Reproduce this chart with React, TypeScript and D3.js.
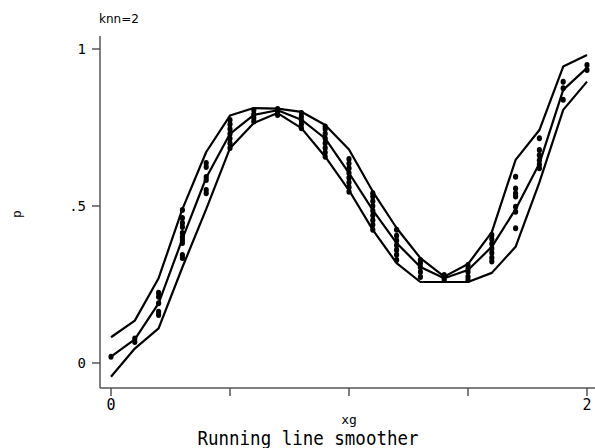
import React from "react";
import * as d3 from "d3";

const xg = [0, 0.1, 0.2, 0.3, 0.4, 0.5, 0.6, 0.7, 0.8, 0.9, 1.0, 1.1, 1.2, 1.3, 1.4, 1.5, 1.6, 1.7, 1.8, 1.9, 2.0];
const smoothMid = [0.02, 0.075, 0.19, 0.395, 0.59, 0.73, 0.79, 0.805, 0.775, 0.715, 0.605, 0.487, 0.382, 0.306, 0.27, 0.296, 0.37, 0.49, 0.635, 0.87, 0.94];
const smoothUpper = [0.082, 0.135, 0.27, 0.49, 0.672, 0.788, 0.812, 0.81, 0.8, 0.758, 0.68, 0.546, 0.43, 0.334, 0.275, 0.315, 0.417, 0.647, 0.742, 0.944, 0.981];
const smoothLower = [-0.044, 0.046, 0.11, 0.305, 0.49, 0.684, 0.764, 0.796, 0.748, 0.657, 0.55, 0.424, 0.318, 0.258, 0.258, 0.258, 0.287, 0.37, 0.575, 0.806, 0.896];

const pointsByX: number[][] = [
  [0.02],
  [0.067, 0.078],
  [0.153, 0.163, 0.19, 0.211, 0.224],
  [0.334, 0.344, 0.382, 0.392, 0.401, 0.414, 0.433, 0.446, 0.462, 0.487],
  [0.541, 0.551, 0.583, 0.592, 0.624, 0.637],
  [0.685, 0.7, 0.715, 0.73, 0.745, 0.76, 0.774],
  [0.769, 0.78, 0.792, 0.806],
  [0.79, 0.8, 0.809],
  [0.748, 0.76, 0.772, 0.784, 0.796],
  [0.657, 0.67, 0.685, 0.7, 0.715, 0.73, 0.745, 0.753],
  [0.545, 0.56, 0.575, 0.59, 0.605, 0.62, 0.635, 0.65],
  [0.424, 0.44, 0.455, 0.47, 0.485, 0.5, 0.515, 0.53, 0.541],
  [0.328, 0.345, 0.36, 0.375, 0.39, 0.405, 0.424],
  [0.274, 0.29, 0.305, 0.318, 0.328],
  [0.264, 0.272, 0.28],
  [0.264, 0.275, 0.29, 0.3, 0.312],
  [0.323, 0.335, 0.35, 0.365, 0.38, 0.395, 0.408],
  [0.429, 0.482, 0.498, 0.53, 0.54, 0.556, 0.593],
  [0.62, 0.632, 0.646, 0.662, 0.678, 0.716],
  [0.838, 0.875, 0.896],
  [0.933, 0.949],
];

const xTicks = [0, 0.5, 1, 1.5, 2];
const xTickLabels = ["0", "", "", "", "2"];
const yTicks = [0, 0.5, 1];
const yTickLabels = ["0", ".5", "1"];

export default function App() {
  const W = 595, H = 448;
  const x = d3.scaleLinear().domain([0, 2]).range([111, 587]);
  const y = d3.scaleLinear().domain([0, 1]).range([363, 49]);
  const line = d3.line<number>().x((_, i) => x(xg[i])).y((d) => y(d));
  const axisColor = "#555";
  const font = "'DejaVu Sans Mono', monospace";
  const pts: { x: number; v: number }[] = [];
  pointsByX.forEach((arr, i) => arr.forEach((v) => pts.push({ x: xg[i], v })));
  return (
    <svg width={W} height={H} style={{ position: "absolute", left: 0, top: 0, background: "#fff" }}>
      <rect width={W} height={H} fill="#fff" />
      <text x={99} y={23} fontFamily="'DejaVu Sans', sans-serif" fontSize={12}>knn=2</text>
      {/* y axis */}
      <line x1={100} x2={100} y1={36} y2={388} stroke={axisColor} strokeWidth={1.5} />
      {yTicks.map((t, i) => (
        <g key={"y" + i}>
          <line x1={92} x2={100} y1={y(t)} y2={y(t)} stroke={axisColor} strokeWidth={1.5} />
          <text x={86} y={y(t) + 5} textAnchor="end" fontFamily={font} fontSize={14}>{yTickLabels[i]}</text>
        </g>
      ))}
      <text transform={`translate(21,214) rotate(-90)`} textAnchor="middle" fontFamily={font} fontSize={13}>p</text>
      {/* x axis */}
      <line x1={100} x2={595} y1={388} y2={388} stroke={axisColor} strokeWidth={1.5} />
      {xTicks.map((t, i) => (
        <g key={"x" + i}>
          <line x1={x(t)} x2={x(t)} y1={388} y2={396} stroke={axisColor} strokeWidth={1.5} />
          <text x={x(t)} y={410} textAnchor="middle" fontFamily={font} fontSize={15}>{xTickLabels[i]}</text>
        </g>
      ))}
      <text x={349} y={424} textAnchor="middle" fontFamily={font} fontSize={13}>xg</text>
      <g transform="translate(308,445) scale(1,1.12)">
        <text x={0} y={0} textAnchor="middle" fontFamily={font} fontSize={17.5}>Running line smoother</text>
      </g>
      {/* lines */}
      {[smoothUpper, smoothMid, smoothLower].map((s, i) => (
        <path key={"l" + i} d={line(s) || ""} fill="none" stroke="#000" strokeWidth={2.2} strokeLinejoin="round" />
      ))}
      {pts.map((p, i) => (
        <ellipse key={"p" + i} cx={x(p.x)} cy={y(p.v)} rx={2.6} ry={3} fill="#000" />
      ))}
    </svg>
  );
}
